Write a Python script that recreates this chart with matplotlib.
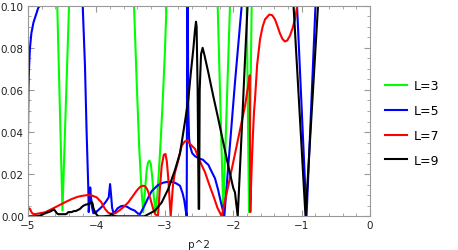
import numpy as np
import matplotlib
matplotlib.use("Agg")
import matplotlib.pyplot as plt
from matplotlib.ticker import MultipleLocator, FormatStrFormatter

# L=3 (green)
x_l3 = [-5.0, -4.65, -4.572, -4.496, -4.40, -4.33, -3.9, -3.49, -3.45, -3.41, -3.373, -3.34, -3.315,
        -3.29, -3.265, -3.245, -3.225, -3.205, -3.185, -3.16, -3.135, -3.11, -3.085, -3.06, -3.03,
        -3.0, -2.975, -2.94, -2.6, -2.26, -2.227, -2.145, -2.047, -2.01, -1.9, -1.83, -1.803, -1.769,
        -1.730, -1.70, 0.0]
y_l3 = [0.2, 0.2, 0.1, 0.0027, 0.1, 0.2, 0.2, 0.13, 0.1, 0.063, 0.032, 0.012, 0.002,
        0.012, 0.022, 0.0255, 0.0264, 0.025, 0.019, 0.009, 0.002, 0.010, 0.022, 0.036, 0.055,
        0.077, 0.1, 0.14, 0.2, 0.14, 0.1, 0.002, 0.1, 0.15, 0.2, 0.15, 0.1, 0.002,
        0.1, 0.15, 0.2]

# L=5 (blue)
x_l5 = [-5.0, -4.993, -4.985, -4.971, -4.95, -4.92, -4.88, -4.85, -4.825, -4.80, -4.5, -4.23, -4.200,
        -4.167, -4.143, -4.118, -4.112, -4.100, -4.090, -4.082, -4.062, -4.045, -4.02, -3.97, -3.92,
        -3.86, -3.82, -3.80, -3.785, -3.77, -3.75, -3.73, -3.69, -3.64, -3.60, -3.55, -3.50, -3.44,
        -3.40, -3.363, -3.33, -3.29, -3.24, -3.19, -3.10, -3.02, -2.95, -2.88, -2.826, -2.778, -2.74,
        -2.715, -2.695, -2.680, -2.672, -2.668, -2.664, -2.656, -2.645, -2.632, -2.60, -2.558, -2.50,
        -2.44, -2.40, -2.364, -2.32, -2.266, -2.22, -2.193, -2.16, -2.130, -2.072, -1.974, -1.876,
        -1.85, -1.5, -1.1, -1.067, -0.928, -0.797, -0.77, 0.0]
y_l5 = [0.038, 0.060, 0.070, 0.080, 0.087, 0.092, 0.096, 0.099, 0.1, 0.103, 0.2, 0.13, 0.1,
        0.0715, 0.04, 0.013, 0.002, 0.008, 0.0137, 0.010, 0.004, 0.0015, 0.0015, 0.003, 0.0045,
        0.007, 0.009, 0.0153, 0.010, 0.004, 0.0015, 0.002, 0.0038, 0.0048, 0.005, 0.0045, 0.0035, 0.0027,
        0.0015, 0.001, 0.003, 0.0055, 0.009, 0.012, 0.0148, 0.016, 0.0164, 0.0163, 0.0155, 0.0145, 0.011,
        0.0075, 0.003, 0.0, 0.1, 0.2, 0.1, 0.05, 0.037, 0.0335, 0.030, 0.0285, 0.0275,
        0.0268, 0.0255, 0.0245, 0.0215, 0.018, 0.0125, 0.0085, 0.004, 0.0, 0.024, 0.0636, 0.1,
        0.11, 0.2, 0.13, 0.1, 0.0, 0.1, 0.12, 0.2]

# L=7 (red)
x_l7 = [-5.0, -4.985, -4.97, -4.95, -4.93, -4.898, -4.85, -4.75, -4.65, -4.557, -4.45, -4.361, -4.27,
        -4.192, -4.12, -4.06, -3.996, -3.95, -3.93, -3.874, -3.83, -3.776, -3.72, -3.655, -3.60,
        -3.534, -3.47, -3.41, -3.36, -3.32, -3.29, -3.26, -3.23, -3.20, -3.17, -3.14, -3.10,
        -3.07, -3.045, -3.015, -2.99, -2.97, -2.949, -2.93, -2.914, -2.88, -2.851, -2.803, -2.753,
        -2.71, -2.67, -2.62, -2.558, -2.50, -2.412, -2.35, -2.291, -2.23, -2.168, -2.072, -1.949,
        -1.827, -1.772, -1.758, -1.750, -1.742, -1.725, -1.71, -1.695, -1.681, -1.65, -1.608, -1.57,
        -1.535, -1.472, -1.43, -1.389, -1.35, -1.316, -1.28, -1.243, -1.21, -1.17, -1.13, -1.096,
        -1.048, -1.0, 0.0]
y_l7 = [0.003, 0.0038, 0.0035, 0.002, 0.0012, 0.001, 0.0013, 0.0019, 0.0035, 0.005, 0.0068, 0.0082, 0.0093,
        0.0098, 0.0101, 0.0098, 0.009, 0.0074, 0.0068, 0.0035, 0.0018, 0.001, 0.0015, 0.003, 0.0045,
        0.0066, 0.0095, 0.0122, 0.014, 0.0145, 0.0143, 0.013, 0.0105, 0.007, 0.0035, 0.001, 0.0,
        0.014, 0.024, 0.0292, 0.0296, 0.026, 0.018, 0.008, 0.0, 0.015, 0.0209, 0.0265, 0.0335,
        0.0355, 0.0359, 0.034, 0.032, 0.027, 0.0209, 0.015, 0.0098, 0.004, 0.0, 0.0145, 0.0335,
        0.0525, 0.064, 0.067, 0.002, 0.012, 0.028, 0.040, 0.050, 0.0557, 0.072, 0.084, 0.090,
        0.0935, 0.0958, 0.0955, 0.0935, 0.090, 0.0868, 0.0842, 0.083, 0.0835, 0.0858, 0.0895, 0.0937,
        0.1032, 0.12, 0.2]

# L=9 (black)
x_l9 = [-5.0, -4.90, -4.825, -4.75, -4.68, -4.62, -4.605, -4.58, -4.557, -4.45, -4.43, -4.41, -4.36,
        -4.33, -4.30, -4.27, -4.24, -4.21, -4.19, -4.16, -4.118, -4.09, -4.069, -4.055, -4.045,
        -4.02, -3.996, -3.972, -3.90, -3.80, -3.78, -3.76, -3.70, -3.30, -3.24, -3.143, -3.045,
        -2.949, -2.851, -2.778, -2.753, -2.70, -2.656, -2.62, -2.583, -2.56, -2.544, -2.535, -2.52,
        -2.505, -2.498, -2.49, -2.47, -2.447, -2.42, -2.364, -2.291, -2.218, -2.145, -2.072, -2.0,
        -1.974, -1.934, -1.876, -1.827, -1.79, -1.77, -1.5, -1.15, -1.118, -0.943, -0.760, -0.73, 0.0]
y_l9 = [0.0, 0.0, 0.0003, 0.0014, 0.0022, 0.0032, 0.0027, 0.0015, 0.001, 0.001, 0.0013, 0.002, 0.002,
        0.0025, 0.0025, 0.003, 0.0035, 0.0045, 0.005, 0.0055, 0.0058, 0.0062, 0.0068, 0.006, 0.004,
        0.002, 0.0008, 0.0, 0.0, 0.0003, 0.0012, 0.0003, 0.0, 0.0, 0.001, 0.0027, 0.0066,
        0.013, 0.022, 0.030, 0.035, 0.046, 0.0557, 0.068, 0.0794, 0.088, 0.0924, 0.090, 0.060,
        0.0035, 0.0035, 0.06, 0.077, 0.080, 0.0765, 0.0683, 0.057, 0.0462, 0.035, 0.024, 0.0135,
        0.0113, 0.0, 0.04, 0.0747, 0.1, 0.12, 0.2, 0.13, 0.1, 0.0, 0.1, 0.12, 0.2]

labels = ["L=3", "L=5", "L=7", "L=9"]
colors = ["#00ff00", "#0000ff", "#ff0000", "#000000"]

fig = plt.figure(figsize=(4.58, 2.51), dpi=100)
ax = fig.add_axes([0.0611, 0.1343, 0.7468, 0.839])

for xs, ys, lab, c in zip([x_l3, x_l5, x_l7, x_l9], [y_l3, y_l5, y_l7, y_l9], labels, colors):
    ax.plot(xs, ys, color=c, lw=1.5, label=lab)

ax.set_xlim(-5, 0)
ax.set_ylim(0, 0.1)
ax.xaxis.set_major_locator(MultipleLocator(1))
ax.xaxis.set_minor_locator(MultipleLocator(0.2))
ax.yaxis.set_major_locator(MultipleLocator(0.02))
ax.yaxis.set_minor_locator(MultipleLocator(0.005))
ax.yaxis.set_major_formatter(FormatStrFormatter("%.2f"))
ax.tick_params(which="both", direction="in", top=True, right=True, colors="#999999",
               labelcolor="#222222", labelsize=7.5, pad=3)
ax.tick_params(which="major", length=4, width=0.8)
ax.tick_params(which="minor", length=2, width=0.6)
for s in ax.spines.values():
    s.set_color("#999999")
    s.set_linewidth(0.8)
ax.set_xlabel("p^2", fontsize=7.5, color="#222222", labelpad=6)

ax.legend(loc="center left", bbox_to_anchor=(1.044, 0.443), frameon=False, fontsize=9,
          handlelength=1.76, handletextpad=0.5, labelspacing=0.95, borderpad=0, borderaxespad=0)

fig.savefig("out.png", dpi=100)
